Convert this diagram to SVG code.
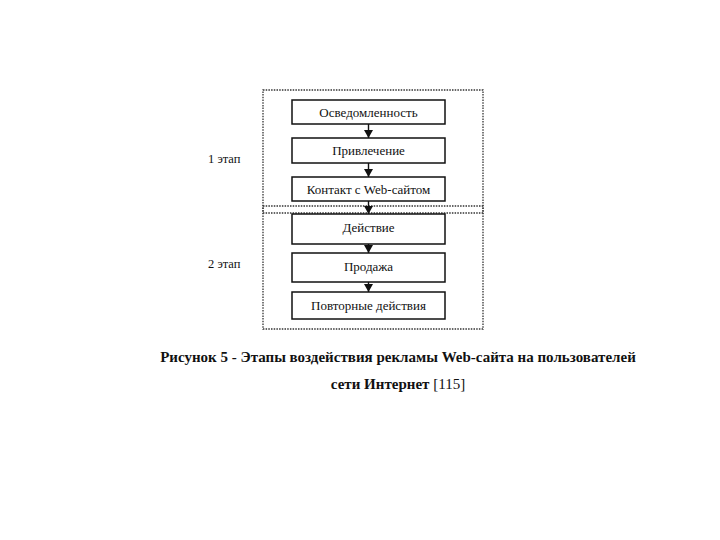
<svg xmlns="http://www.w3.org/2000/svg" width="720" height="540" viewBox="0 0 720 540">
<style>
.bg{fill:#fff}
.stage{fill:none;stroke:#333;stroke-width:1.3;stroke-dasharray:1.5 1.2}
.box{fill:#fff;stroke:#111;stroke-width:1.5}
.t{font-family:"Liberation Serif","Times New Roman",serif;font-size:13px;fill:#111;text-anchor:middle}
.lbl{font-family:"Liberation Serif","Times New Roman",serif;font-size:12.5px;fill:#111}
.cap{font-family:"Liberation Serif","Times New Roman",serif;font-size:15px;fill:#111;text-anchor:middle}
.conn line{stroke:#111;stroke-width:1.4}
</style>
<defs>
<marker id="ah" markerWidth="10" markerHeight="9" refX="8" refY="4.5" orient="auto" markerUnits="userSpaceOnUse">
<path d="M0,0 L8,4.5 L0,9 z" fill="#111"/>
</marker>
</defs>
<rect class="bg" width="720" height="540"/>
<g id="stage1">
<rect class="stage" x="263" y="90" width="220" height="123"/>
<text class="lbl" x="208" y="163">1 этап</text>
</g>
<g id="stage2">
<rect class="stage" x="263" y="206" width="220" height="123"/>
<text class="lbl" x="208" y="268">2 этап</text>
</g>
<g class="conn" id="connectors">
<line x1="368.5" y1="124" x2="368.5" y2="138" marker-end="url(#ah)"/>
<line x1="368.5" y1="163" x2="368.5" y2="177" marker-end="url(#ah)"/>
<line x1="368.5" y1="201" x2="368.5" y2="214" marker-end="url(#ah)"/>
<line x1="368.5" y1="244" x2="368.5" y2="253" marker-end="url(#ah)"/>
<line x1="368.5" y1="282" x2="368.5" y2="292" marker-end="url(#ah)"/>
</g>
<g id="n1"><rect class="box" x="292" y="100" width="153" height="24"/><text class="t" x="368.5" y="116.5">Осведомленность</text></g>
<g id="n2"><rect class="box" x="292" y="138" width="153" height="25"/><text class="t" x="368.5" y="155">Привлечение</text></g>
<g id="n3"><rect class="box" x="292" y="177" width="153" height="24"/><text class="t" x="368.5" y="193.5">Контакт с Web-сайтом</text></g>
<g id="n4"><rect class="box" x="292" y="214" width="153" height="30"/><text class="t" x="368.5" y="232">Действие</text></g>
<g id="n5"><rect class="box" x="292" y="253" width="153" height="29"/><text class="t" x="368.5" y="271">Продажа</text></g>
<g id="n6"><rect class="box" x="292" y="292" width="153" height="27"/><text class="t" x="368.5" y="309.5">Повторные действия</text></g>
<g id="caption">
<text class="cap" x="398" y="362" font-weight="bold">Рисунок 5 - Этапы воздействия рекламы Web-сайта на пользователей</text>
<text class="cap" x="398" y="389"><tspan font-weight="bold">сети Интернет</tspan> [115]</text>
</g>
</svg>
